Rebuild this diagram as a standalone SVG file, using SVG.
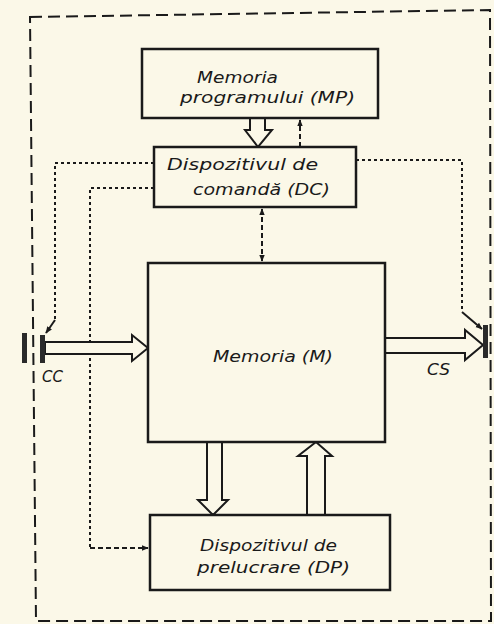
<svg xmlns="http://www.w3.org/2000/svg" width="494" height="624" viewBox="0 0 494 624">
<style>
.box{fill:#fbf8e8;stroke:#1a1a1a;stroke-width:2.5}
.t{font-family:"DejaVu Sans","Liberation Sans",sans-serif;font-style:italic;font-size:16px;fill:#1a1a1a}
.hollow{fill:#fbf8e8;stroke:#1a1a1a;stroke-width:2;stroke-linejoin:miter}
.dot{fill:none;stroke:#1a1a1a;stroke-width:2;stroke-dasharray:3 3}
.dash{fill:none;stroke:#1a1a1a;stroke-width:2;stroke-dasharray:5 3}
.border{fill:none;stroke:#1a1a1a;stroke-width:2;stroke-dasharray:12 6}
.bar{fill:#2a2a2a}
</style>
<defs>
<marker id="ah" viewBox="0 0 10 10" refX="9" refY="5" markerWidth="7" markerHeight="7" orient="auto-start-reverse" markerUnits="userSpaceOnUse">
<path d="M0,1 L10,5 L0,9 z" fill="#1a1a1a"/>
</marker>
</defs>
<rect x="0" y="0" width="494" height="624" fill="#fbf8e8"/>
<path class="border" d="M30,17 L490,10 L491,621 L36,621 Z"/>

<g id="connectors">
<polygon class="hollow" points="250,118 265,118 265,130 272,130 258,147 245,130 250,130"/>
<line class="dash" x1="300" y1="147" x2="300" y2="120" marker-end="url(#ah)"/>
<line class="dash" x1="262" y1="209" x2="262" y2="261" marker-start="url(#ah)" marker-end="url(#ah)"/>
<path class="dot" d="M154,163 L55,163 L55,320"/>
<line x1="55" y1="320" x2="46" y2="333" stroke="#1a1a1a" stroke-width="2" marker-end="url(#ah)"/>
<path class="dot" d="M154,188 L90,188 L90,548"/>
<line class="dash" x1="90" y1="548" x2="148" y2="548" marker-end="url(#ah)"/>
<path class="dot" d="M356,160 L462,160 L462,312"/>
<line x1="462" y1="312" x2="482" y2="329" stroke="#1a1a1a" stroke-width="2" marker-end="url(#ah)"/>
<polygon class="hollow" points="45,342 132,342 132,335 148,348 132,361 132,354 45,354"/>
<polygon class="hollow" points="385,338 465,338 465,330 483,345 465,360 465,353 385,353"/>
<polygon class="hollow" points="207,442 222,442 222,500 228,500 213,515 198,500 207,500"/>
<polygon class="hollow" points="307,515 325,515 325,456 332,456 316,442 298,456 307,456"/>
</g>

<g id="CC">
<rect class="bar" x="22" y="333" width="5" height="30"/>
<rect class="bar" x="40" y="335" width="5" height="28"/>
<text class="t" x="42" y="382" textLength="21" lengthAdjust="spacingAndGlyphs">CC</text>
</g>
<g id="CS">
<rect class="bar" x="483" y="325" width="5" height="33"/>
<text class="t" x="427" y="375" textLength="23" lengthAdjust="spacingAndGlyphs">CS</text>
</g>

<g id="MP">
<rect class="box" x="142" y="49" width="236" height="69"/>
<text class="t" x="197" y="83" textLength="81" lengthAdjust="spacingAndGlyphs">Memoria</text>
<text class="t" x="180" y="103" textLength="175" lengthAdjust="spacingAndGlyphs">programului (MP)</text>
</g>
<g id="DC">
<rect class="box" x="154" y="147" width="202" height="60"/>
<text class="t" x="167" y="170" textLength="151" lengthAdjust="spacingAndGlyphs">Dispozitivul de</text>
<text class="t" x="193" y="195" textLength="137" lengthAdjust="spacingAndGlyphs">comandă (DC)</text>
</g>
<g id="M">
<rect class="box" x="148" y="263" width="237" height="179"/>
<text class="t" x="213" y="362" textLength="120" lengthAdjust="spacingAndGlyphs">Memoria (M)</text>
</g>
<g id="DP">
<rect class="box" x="150" y="515" width="240" height="75"/>
<text class="t" x="200" y="551" textLength="137" lengthAdjust="spacingAndGlyphs">Dispozitivul de</text>
<text class="t" x="197" y="573" textLength="153" lengthAdjust="spacingAndGlyphs">prelucrare (DP)</text>
</g>
</svg>
